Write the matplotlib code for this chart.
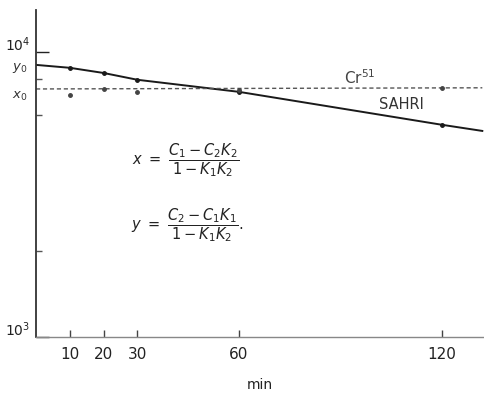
import matplotlib
matplotlib.use("Agg")
import matplotlib.pyplot as plt
from matplotlib.ticker import FixedLocator, LogLocator, NullFormatter

# Data
t_sahri = [0, 10, 20, 30, 60, 120, 132]
v_sahri = [9000, 8790, 8430, 7980, 7240, 5550, 5280]
t_sahri_pts = [10, 20, 30, 60, 120]
v_sahri_pts = [8790, 8430, 7980, 7240, 5550]

t_cr_line = [0, 132]
v_cr_line = [7410, 7480]
t_cr_pts = [10, 20, 30, 60, 120]
v_cr_pts = [7070, 7410, 7240, 7360, 7480]

xticks = [10, 20, 30, 60, 120]
xticklabels = ["10", "20", "30", "60", "120"]
yticks = [1000, 10000]
yticklabels = [r'$10^3$', r'$10^4$']

plt.rcParams['font.family'] = ['DejaVu Sans']
plt.rcParams['mathtext.fontset'] = 'dejavusans'

fig = plt.figure(figsize=(4.84, 3.96), dpi=100)
ax = fig.add_axes([0.0744, 0.149, 0.9256, 0.826])

ax.plot(t_sahri, v_sahri, color='#1a1a1a', lw=1.4)
ax.plot(t_sahri_pts, v_sahri_pts, 'o', color='#1a1a1a', ms=2.5)
ax.plot(t_cr_line, v_cr_line, color='#555555', lw=1.0, ls=(0, (3, 2)))
ax.plot(t_cr_pts, v_cr_pts, 'o', color='#444444', ms=2.5)

ax.set_yscale('log')
ax.set_xlim(0, 132.5)
ax.set_ylim(1000, 14030)

for s in ['top', 'right']:
    ax.spines[s].set_visible(False)
ax.spines['left'].set_color('#333333')
ax.spines['bottom'].set_color('#888888')
ax.spines['left'].set_linewidth(1.3)
ax.spines['bottom'].set_linewidth(1.0)

ax.set_xticks(xticks)
ax.set_xticklabels(xticklabels, fontsize=11, color='#222222')
ax.tick_params(axis='x', direction='in', length=5, width=1.0, colors='#444444', labelcolor='#222222', pad=7)

ax.yaxis.set_major_locator(FixedLocator(yticks))
ax.yaxis.set_major_formatter(NullFormatter())
ax.yaxis.set_minor_locator(LogLocator(base=10, subs=[2, 6, 8]))
ax.yaxis.set_minor_formatter(NullFormatter())
ax.tick_params(axis='y', which='major', direction='in', length=9, width=1.0, colors='#222222')
ax.tick_params(axis='y', which='minor', direction='in', length=4, width=1.0, colors='#555555')

for v, lab in zip(yticks, yticklabels):
    ax.text(-1.8, v * 1.058, lab, fontsize=10, ha='right', va='center', color='#222222', clip_on=False)

ax.set_xlabel('min', fontsize=10, color='#222222', labelpad=12)

ax.text(-2.5, 8750, r'$y_0$', fontsize=9.5, ha='right', va='center', color='#333333', clip_on=False)
ax.text(-2.5, 6950, r'$x_0$', fontsize=9.5, ha='right', va='center', color='#333333', clip_on=False)

ax.text(91, 8110, r'Cr$^{51}$', fontsize=11, color='#444444', ha='left', va='center')
ax.text(101.5, 6520, 'SAHRI', fontsize=10.5, color='#333333', ha='left', va='center')

ax.text(28.3, 4180, r'$x\ =\ \dfrac{C_1 - C_2K_2}{1 - K_1K_2}$', fontsize=10.5, ha='left', va='center', color='#222222')
ax.text(28.0, 2470, r'$y\ =\ \dfrac{C_2 - C_1K_1}{1 - K_1K_2}.$', fontsize=10.5, ha='left', va='center', color='#222222')

fig.savefig('out.png', dpi=100)
